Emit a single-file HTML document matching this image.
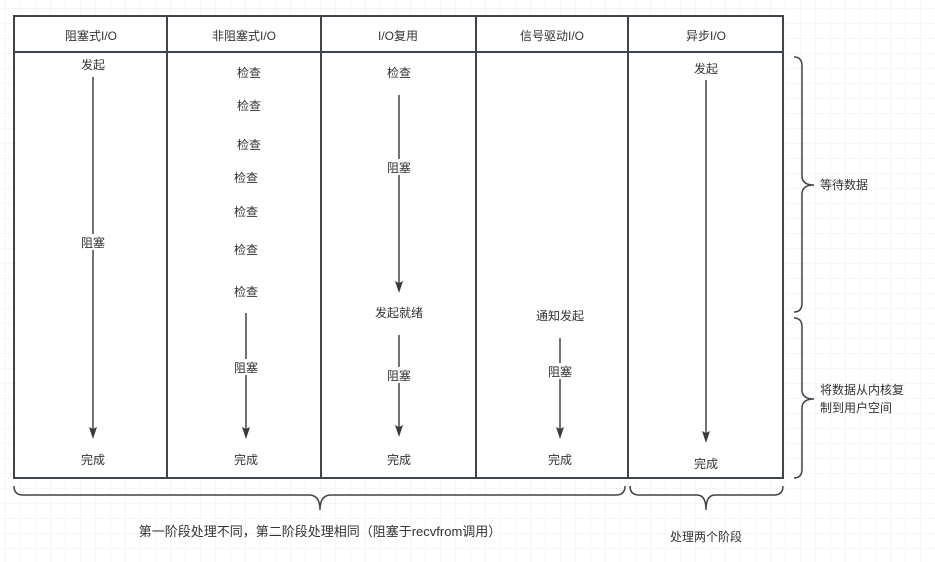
<!DOCTYPE html>
<html><head><meta charset="utf-8"><style>
html,body{margin:0;padding:0;width:935px;height:562px;overflow:hidden;background:#fff}
text{font-family:"Liberation Sans","Noto Sans CJK SC",sans-serif;font-size:12px;fill:#333}
</style></head><body>
<svg width="935" height="562" xmlns="http://www.w3.org/2000/svg">
<defs>
<pattern id="g" x="5" y="8" width="15" height="15" patternUnits="userSpaceOnUse">
<path d="M0 0H15M0 0V15" stroke="#eeeeee" stroke-width="1" fill="none"/>
</pattern>
</defs>
<rect width="935" height="562" fill="url(#g)"/>
<rect x="14" y="16" width="769" height="462" fill="#fff" stroke="#3f454c" stroke-width="2"/>
<line x1="14" y1="52" x2="783" y2="52" stroke="#3f454c" stroke-width="2"/>
<g stroke="#3f454c" stroke-width="2">
<line x1="167" y1="16" x2="167" y2="478"/><line x1="321" y1="16" x2="321" y2="478"/>
<line x1="476" y1="16" x2="476" y2="478"/><line x1="628" y1="16" x2="628" y2="478"/>
</g>
<g text-anchor="middle">
<text x="91" y="40">阻塞式I/O</text><text x="244" y="40">非阻塞式I/O</text><text x="398" y="40">I/O复用</text>
<text x="552" y="40">信号驱动I/O</text><text x="706" y="40">异步I/O</text>
</g>
<g stroke="#444" stroke-width="1.5" fill="none">
<line x1="93" y1="77" x2="93" y2="430"/>
<line x1="246" y1="313" x2="246" y2="430"/>
<line x1="399" y1="95" x2="399" y2="284"/>
<line x1="399" y1="335" x2="399" y2="428"/>
<line x1="560" y1="338" x2="560" y2="430"/>
<line x1="706" y1="80" x2="706" y2="434"/>
</g>
<g fill="#3a3a3a">
<path d="M89 427L93 429 97 427 93 439Z"/>
<path d="M242 427L246 429 250 427 246 439Z"/>
<path d="M395 281L399 283 403 281 399 293Z"/>
<path d="M395 425L399 427 403 425 399 437Z"/>
<path d="M556 427L560 429 564 427 560 439Z"/>
<path d="M702 431L706 433 710 431 706 443Z"/>
</g>
<g fill="#fff">
<rect x="80" y="234" width="27" height="16"/><rect x="232" y="359" width="28" height="16"/>
<rect x="386" y="159" width="27" height="16"/><rect x="386" y="367" width="27" height="16"/>
<rect x="546" y="363" width="28" height="16"/>
</g>
<g text-anchor="middle">
<text x="93" y="69">发起</text><text x="93" y="247">阻塞</text><text x="93" y="464">完成</text>
<text x="249" y="77">检查</text><text x="249" y="110">检查</text><text x="249" y="149">检查</text>
<text x="246" y="182">检查</text><text x="246" y="216">检查</text><text x="246" y="254">检查</text>
<text x="246" y="296">检查</text><text x="246" y="372">阻塞</text><text x="246" y="464">完成</text>
<text x="399" y="77">检查</text><text x="399" y="172">阻塞</text><text x="399" y="317">发起就绪</text>
<text x="399" y="380">阻塞</text><text x="399" y="464">完成</text>
<text x="560" y="320">通知发起</text><text x="560" y="376">阻塞</text><text x="560" y="464">完成</text>
<text x="706" y="73">发起</text><text x="706" y="468">完成</text>
</g>
<g stroke="#3f454c" stroke-width="1.5" fill="none">
<path d="M794 57Q802 57 802 66V176Q802 185 814 185Q802 185 802 194V303Q802 312 794 312"/>
<path d="M794 318Q802 318 802 327V390Q802 399 814 399Q802 399 802 408V469Q802 478 794 478"/>
<path d="M14 486Q14 495 23 495H309Q320 495 320 510Q320 495 331 495H616Q625 495 625 486"/>
<path d="M630 486Q630 495 639 495H697Q706 495 706 510Q706 495 715 495H774Q783 495 783 486"/>
</g>
<text x="820" y="189">等待数据</text>
<text x="820" y="394">将数据从内核复</text>
<text x="820" y="412">制到用户空间</text>
<text x="320" y="536" text-anchor="middle" style="font-size:13px">第一阶段处理不同，第二阶段处理相同（阻塞于recvfrom调用）</text>
<text x="706" y="541" text-anchor="middle">处理两个阶段</text>
</svg>
</body></html>
